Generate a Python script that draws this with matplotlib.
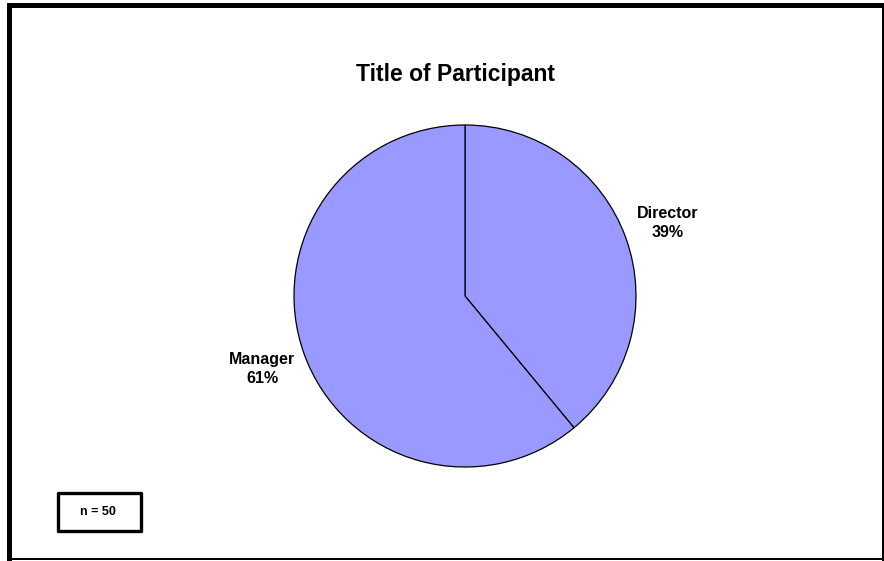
import matplotlib.pyplot as plt
from matplotlib.patches import Rectangle

plt.rcParams['font.family'] = ['Liberation Sans', 'DejaVu Sans']

titles = ['Director', 'Manager']
shares = [39, 61]
n_total = 50

W, H = 884, 561
fig = plt.figure(figsize=(W / 100, H / 100), dpi=100)
ax = fig.add_axes([0, 0, 1, 1])

# pie centred in pixel space (y measured from the bottom)
cx, cy, r = 465, H - 296, 171
labels = [f'{t}\n{v}%' for t, v in zip(titles, shares)]
wedges, texts = ax.pie(shares, labels=labels, startangle=90, counterclock=False,
                       colors=['#9999FF', '#9999FF'], center=(cx, cy), radius=r,
                       labeldistance=1.26,
                       wedgeprops=dict(edgecolor='black', linewidth=0.9),
                       textprops=dict(fontsize=11.5, fontweight='bold'))
for t in texts:
    t.set_ha('center')
    t.set_va('center')
    t.set_linespacing(1.3)

ax.set_xlim(0, W)
ax.set_ylim(0, H)
ax.set_aspect('equal')
ax.axis('off')

ax.text(455, H - 74, 'Title of Participant', ha='center', va='center',
        fontsize=16.5, fontweight='bold')

# n box
ax.add_patch(Rectangle((58, H - 531), 83, 38, fill=False, edgecolor='black',
                       linewidth=2.4, joinstyle='round'))
ax.text(98, H - 512, f'n = {n_total}', ha='center', va='center',
        fontsize=9, fontweight='bold')

# outer frame: heavy top/left, thin right/bottom
ax.add_patch(Rectangle((7, 0), 5, H - 3, color='black', lw=0))
ax.add_patch(Rectangle((7, H - 8), W - 7, 5, color='black', lw=0))
ax.add_patch(Rectangle((881.5, 0), 2, H - 3, color='black', lw=0))
ax.add_patch(Rectangle((7, 1), W - 7, 2, color='black', lw=0))

fig.savefig('out.png', dpi=100)
